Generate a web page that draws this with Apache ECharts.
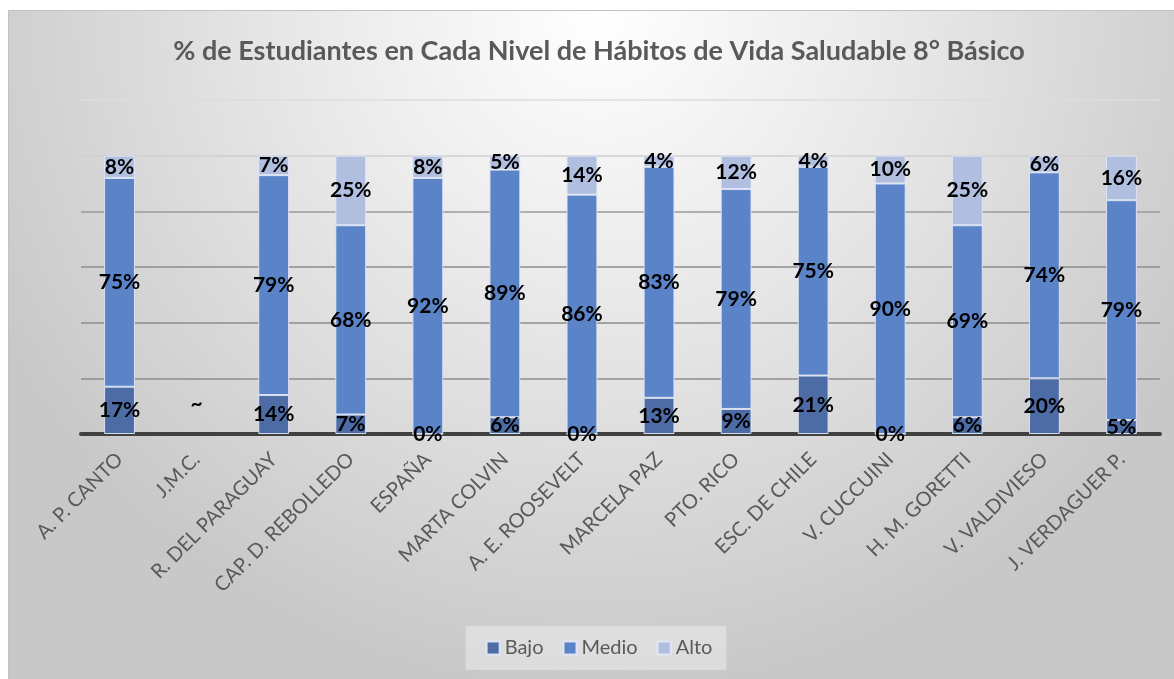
<!DOCTYPE html>
<html>
<head>
<meta charset="utf-8">
<script src="https://cdn.jsdelivr.net/npm/echarts@6/dist/echarts.min.js"></script>
<style>
  html, body { margin: 0; padding: 0; background: #fff; overflow: hidden; }
  #frame {
    position: absolute; left: 8px; top: 10px;
    width: 1180px; height: 680px;
    border-top: 1px solid #c2c2c2; border-left: 1px solid #c2c2c2;
  }
  #chart { width: 1180px; height: 680px; }
</style>
</head>
<body>
<div id="frame"><div id="chart"></div></div>
<script>
// escuelas (eje X)
const categories = ['A. P. CANTO', 'J.M.C.', 'R. DEL PARAGUAY', 'CAP. D. REBOLLEDO', 'ESPAÑA',
  'MARTA COLVIN', 'A. E. ROOSEVELT', 'MARCELA PAZ', 'PTO. RICO', 'ESC. DE CHILE',
  'V. CUCCUINI', 'H. M. GORETTI', 'V. VALDIVIESO', 'J. VERDAGUER P.'];

// % por nivel (J.M.C. sin datos)
const bajo  = [17, null, 14, 7, 0, 6, 0, 13, 9, 21, 0, 6, 20, 5];
const medio = [75, null, 79, 68, 92, 89, 86, 83, 79, 75, 90, 69, 74, 79];
const alto  = [8, null, 7, 25, 8, 5, 14, 4, 12, 4, 10, 25, 6, 16];

const colors = { bajo: '#4d6ca6', medio: '#5b83c7', alto: '#b0bee0' };

const chart = echarts.init(document.getElementById('chart'));

const labelStyle = {
  show: true,
  position: 'inside',
  color: '#000',
  fontFamily: 'Lato',
  fontWeight: 'bold',
  fontSize: 21,
  formatter: p => p.value + '%',
};

// J.M.C. aparece solo con un "~"
const bajoData = bajo.map(v => v === null
  ? { value: 0, itemStyle: { borderWidth: 0 }, label: { formatter: '~', offset: [0, -30] } }
  : v);

function serie(name, data, color) {
  return {
    name,
    type: 'bar',
    stack: 'total',
    data,
    barWidth: '40%',
    itemStyle: { color, borderColor: 'rgba(225,232,246,0.9)', borderWidth: 1 },
    label: labelStyle,
  };
}

const option = {
  backgroundColor: {
    type: 'radial', x: 0.5, y: 0, r: 1,
    colorStops: [
      { offset: 0, color: '#ffffff' },
      { offset: 0.45, color: '#e8e8e8' },
      { offset: 1, color: '#c8c8c8' },
    ],
  },
  title: {
    text: '% de Estudiantes en Cada Nivel de Hábitos de Vida Saludable 8° Básico',
    left: 'center',
    top: 22,
    textStyle: { color: '#595959', fontFamily: 'Lato', fontWeight: 'bold', fontSize: 27 },
  },
  legend: {
    data: ['Bajo', 'Medio', 'Alto'],
    bottom: 21,
    left: 'center',
    icon: 'rect',
    itemWidth: 13,
    itemHeight: 13,
    itemGap: 19,
    padding: [12, 14, 12, 20],
    backgroundColor: 'rgba(255,255,255,0.35)',
    textStyle: { color: '#595959', fontFamily: 'Lato', fontSize: 20 },
  },
  grid: { left: 72, right: 29, top: 89, bottom: 257 },
  xAxis: {
    type: 'category',
    data: categories,
    axisLine: { lineStyle: { color: '#404040', width: 4 } },
    axisTick: { show: false },
    axisLabel: {
      rotate: 45,
      interval: 0,
      margin: 22,
      color: '#595959',
      fontFamily: 'Lato',
      fontSize: 20,
    },
  },
  yAxis: {
    type: 'value',
    min: 0,
    max: 120,
    interval: 20,
    axisLabel: { show: false },
    axisLine: { show: false },
    axisTick: { show: false },
    splitLine: {
      lineStyle: {
        color: ['#8c8c8c', '#8c8c8c', '#8c8c8c', '#8c8c8c', '#9a9a9a', '#cfcfcf', '#dcdcdc'],
        width: 1.5,
      },
    },
  },
  series: [
    serie('Bajo', bajoData, colors.bajo),
    serie('Medio', medio, colors.medio),
    serie('Alto', alto, colors.alto),
  ],
};

chart.setOption(option);
</script>
</body>
</html>
